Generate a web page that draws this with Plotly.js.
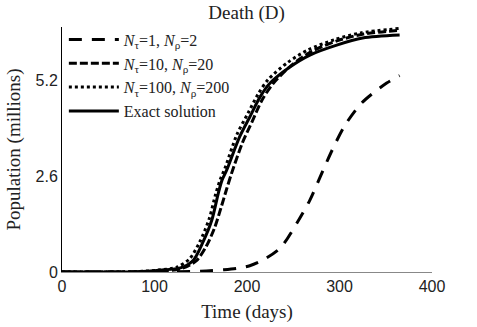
<!DOCTYPE html>
<html>
<head>
<meta charset="utf-8">
<script src="https://cdn.plot.ly/plotly-3.0.1.min.js"></script>
<style>
  body { margin: 0; background: #fff; }
  #plot { width: 477px; height: 327px; }
</style>
</head>
<body>
<div id="plot"></div>
<script>
// values (days, millions)
var daysN1 = [0, 100, 150, 175, 190, 203, 217, 236, 254, 268, 279, 292, 306, 324, 351, 365]
var deathN1 = [0, 0.003, 0.02, 0.06, 0.1, 0.17, 0.32, 0.65, 1.33, 1.95, 2.57, 3.3, 3.98, 4.58, 5.12, 5.32]

var daysN10 = [0, 80, 110, 130, 145, 156, 165, 172, 178, 183, 195, 206, 216, 228, 248, 270, 298, 326, 365]
var deathN10 = [0, 0.005, 0.02, 0.1, 0.3, 0.7, 1.2, 1.75, 2.25, 2.65, 3.5, 4.1, 4.65, 5.1, 5.6, 5.98, 6.27, 6.45, 6.55]

var daysN100 = [0, 80, 103, 124, 138, 149, 159, 166, 171, 176, 189, 201, 212, 223, 244, 266, 295, 323, 365]
var deathN100 = [0, 0.01, 0.05, 0.13, 0.36, 0.82, 1.43, 2.1, 2.5, 2.8, 3.72, 4.3, 4.82, 5.22, 5.68, 6.02, 6.3, 6.48, 6.6]

var daysExact = [0, 80, 106, 128, 142, 152, 162, 169, 173, 178, 192, 203, 214, 225, 246, 268, 297, 325, 365]
var deathExact = [0, 0.01, 0.05, 0.11, 0.32, 0.79, 1.41, 2.14, 2.49, 2.76, 3.66, 4.2, 4.74, 5.12, 5.55, 5.88, 6.15, 6.34, 6.42]

var xTicks = [0, 100, 200, 300, 400]
var yTicks = [0, 2.6, 5.2]

var serif = 'Liberation Serif, Times New Roman, serif'
var sans = 'Liberation Sans, Arial, sans-serif'

var trace1 = {
    x: daysN1,
    y: deathN1,
    mode: 'lines',
    name: '<i>N</i><sub>τ</sub>=1, <i>N</i><sub>ρ</sub>=2',
    line: { color: '#000', width: 3, dash: '13px,10px', shape: 'spline', smoothing: 0.8 }
}

var trace2 = {
    x: daysN10,
    y: deathN10,
    mode: 'lines',
    name: '<i>N</i><sub>τ</sub>=10, <i>N</i><sub>ρ</sub>=20',
    line: { color: '#000', width: 3, dash: '8px,3px', shape: 'spline', smoothing: 0.8 }
}

var trace3 = {
    x: daysN100,
    y: deathN100,
    mode: 'lines',
    name: '<i>N</i><sub>τ</sub>=100, <i>N</i><sub>ρ</sub>=200',
    line: { color: '#000', width: 3, dash: 'dot', shape: 'spline', smoothing: 0.8 }
}

var trace4 = {
    x: daysExact,
    y: deathExact,
    mode: 'lines',
    name: 'Exact solution',
    line: { color: '#000', width: 3, shape: 'spline', smoothing: 0.8 }
}

var data = [trace1, trace2, trace3, trace4]

var layout = {
    width: 477,
    height: 327,
    margin: { l: 62, r: 45, t: 27, b: 55 },
    paper_bgcolor: '#fff',
    plot_bgcolor: '#fff',
    showlegend: true,
    title: {
        text: 'Death (D)',
        font: { family: serif, size: 19, color: '#222' },
        x: 0.517, xanchor: 'center',
        y: 0.963, yanchor: 'middle'
    },
    xaxis: {
        range: [0, 400],
        tickvals: xTicks,
        showgrid: false,
        zeroline: false,
        showline: true,
        linecolor: '#888',
        linewidth: 1,
        ticks: '',
        tickfont: { family: sans, size: 16, color: '#222' },
        title: { text: 'Time (days)', font: { family: serif, size: 19, color: '#222' }, standoff: 10 }
    },
    yaxis: {
        range: [0, 6.64],
        tickvals: yTicks,
        ticktext: ['0', '2.6', '5.2'],
        showgrid: false,
        zeroline: false,
        showline: true,
        linecolor: '#000',
        linewidth: 1,
        ticks: '',
        tickfont: { family: sans, size: 16, color: '#222' },
        title: { text: 'Population (millions)', font: { family: serif, size: 19, color: '#222' }, standoff: 9 }
    },
    legend: {
        x: 0.005, y: 1.018,
        xanchor: 'left', yanchor: 'top',
        bgcolor: 'rgba(0,0,0,0)',
        borderwidth: 0,
        font: { family: serif, size: 16, color: '#222' },
        itemwidth: 50,
        tracegroupgap: 0
    }
}

var config = { staticPlot: true }

Plotly.newPlot('plot', data, layout, config)
</script>
</body>
</html>
